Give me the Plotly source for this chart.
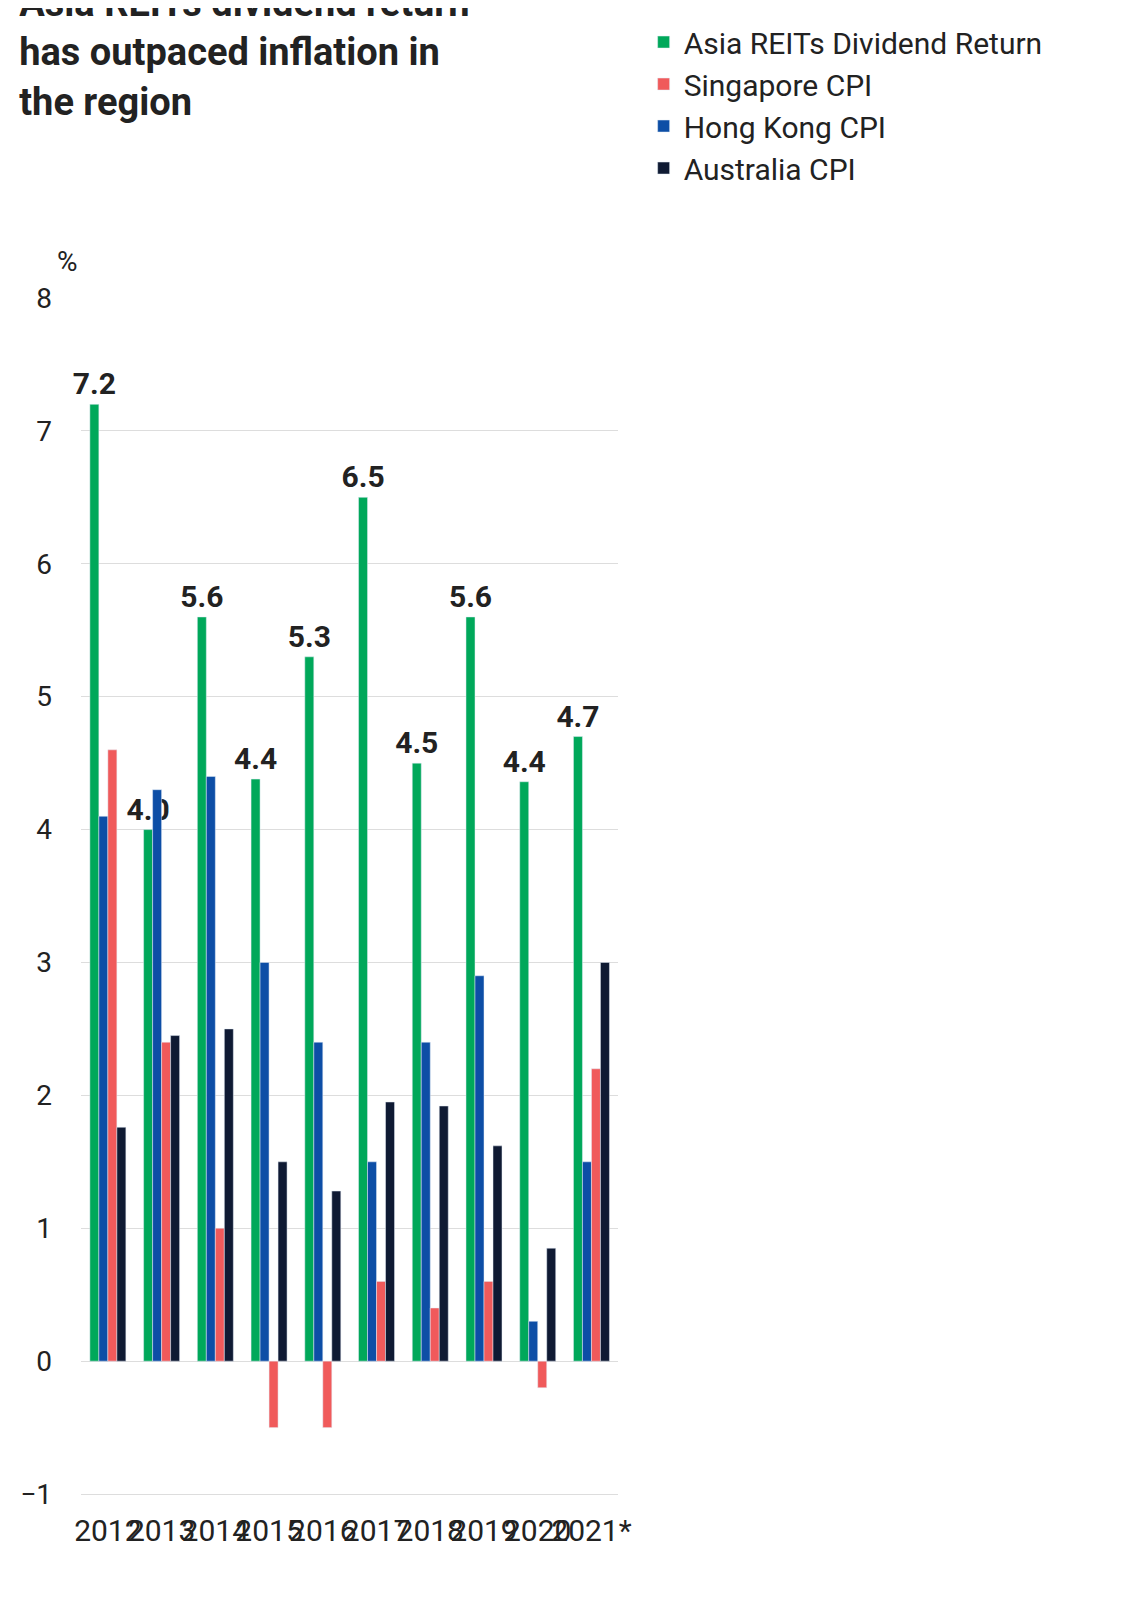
import plotly.graph_objects as go

years = ["2012", "2013", "2014", "2015", "2016", "2017", "2018", "2019", "2020", "2021*"]
dividend = [7.2, 4.0, 5.6, 4.38, 5.3, 6.5, 4.5, 5.6, 4.36, 4.7]
dividend_labels = ["7.2", "4.0", "5.6", "4.4", "5.3", "6.5", "4.5", "5.6", "4.4", "4.7"]
hk_cpi = [4.1, 4.3, 4.4, 3.0, 2.4, 1.5, 2.4, 2.9, 0.3, 1.5]
sg_cpi = [4.6, 2.4, 1.0, -0.5, -0.5, 0.6, 0.4, 0.6, -0.2, 2.2]
au_cpi = [1.76, 2.45, 2.5, 1.5, 1.28, 1.95, 1.92, 1.62, 0.85, 3.0]

GREEN, RED, BLUE, NAVY = "#00a85a", "#f05a5b", "#0d4ea6", "#0f1a33"
FONT = "Roboto"

fig = go.Figure()
fig.add_bar(x=years, y=dividend, name="Asia REITs Dividend Return", marker_color=GREEN,
            text=dividend_labels, textposition="outside", cliponaxis=False, constraintext="none",
            textfont=dict(size=30, color="#222", family=FONT, weight="bold"), legendrank=1)
fig.add_bar(x=years, y=hk_cpi, name="Hong Kong CPI", marker_color=BLUE, legendrank=3)
fig.add_bar(x=years, y=sg_cpi, name="Singapore CPI", marker_color=RED, legendrank=2)
fig.add_bar(x=years, y=au_cpi, name="Australia CPI", marker_color=NAVY, legendrank=4)

fig.update_layout(
    width=1125, height=1607,
    margin=dict(l=62, r=43, t=290, b=105),
    plot_bgcolor="white", paper_bgcolor="white",
    barmode="group", bargap=0.33, bargroupgap=0,
    font=dict(family=FONT, size=30, color="#222"),
    showlegend=True,
    legend=dict(x=0.565, y=0.995, xref="container", yref="container", xanchor="left", yanchor="top",
                font=dict(size=30), traceorder="normal", itemwidth=30, tracegroupgap=10),
    title=dict(text="<b>Asia REITs dividend return<br>has outpaced inflation in<br>the region</b>",
               x=0.01, xanchor="left", y=0.995, yanchor="top", xref="container", yref="container",
               font=dict(size=38, color="#222")),
)
fig.update_yaxes(range=[-1.12, 8.0], dtick=1, showgrid=True, gridcolor="#dddddd",
                 zeroline=True, zerolinecolor="#dddddd", zerolinewidth=1,
                 ticks="", ticklabelstandoff=28, tickfont=dict(size=28))
fig.update_xaxes(showline=False, ticks="", tickangle=0, tickfont=dict(size=30))
fig.add_annotation(text="%", xref="paper", yref="paper", x=-0.048, y=1.045, showarrow=False,
                   xanchor="left", font=dict(size=28))

fig.write_html("out.html")
